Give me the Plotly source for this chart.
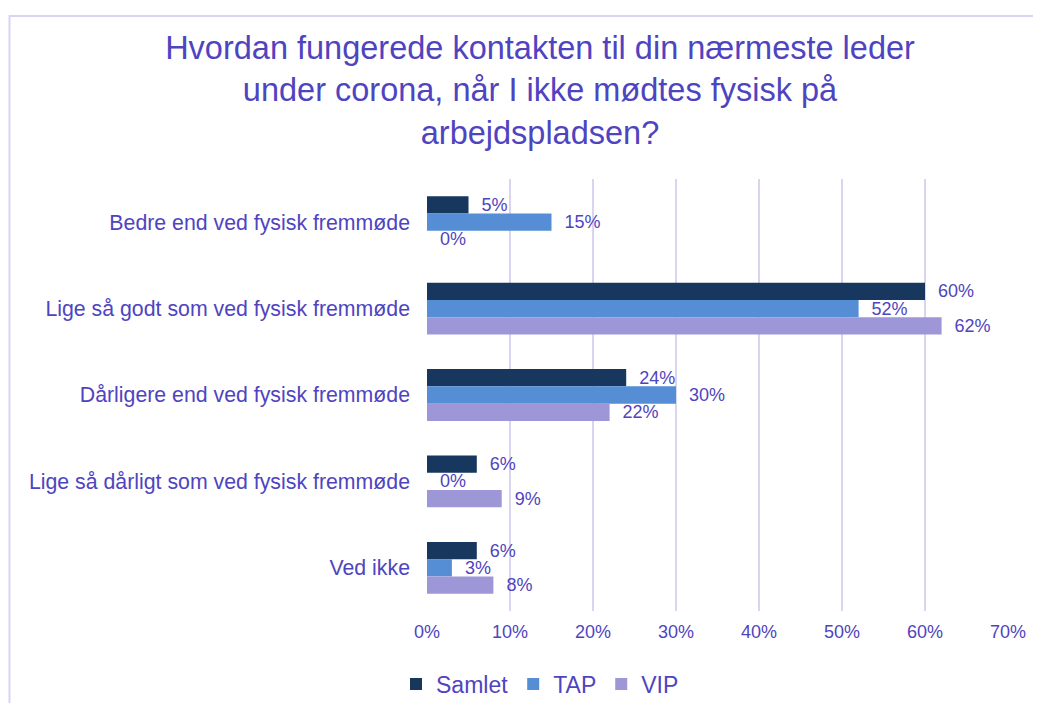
import plotly.graph_objects as go

categories = [
    "Bedre end ved fysisk fremmøde",
    "Lige så godt som ved fysisk fremmøde",
    "Dårligere end ved fysisk fremmøde",
    "Lige så dårligt som ved fysisk fremmøde",
    "Ved ikke",
]
samlet = [5, 60, 24, 6, 6]
tap = [15, 52, 30, 0, 3]
vip = [0, 62, 22, 9, 8]
series_names = ["Samlet", "TAP", "VIP"]
colors = ["#17375E", "#558ED5", "#9D97D8"]
tick_vals = [0, 10, 20, 30, 40, 50, 60, 70]
tick_text = ["0%", "10%", "20%", "30%", "40%", "50%", "60%", "70%"]

title_text = ("Hvordan fungerede kontakten til din nærmeste leder<br>"
              "under corona, når I ikke mødtes fysisk på<br>arbejdspladsen?")

TXT = "#4F44C0"
FONT = "Arial, Liberation Sans, sans-serif"

fig = go.Figure()
for name, vals, col in zip(series_names, [samlet, tap, vip], colors):
    fig.add_trace(go.Bar(
        y=categories, x=vals, name=name, orientation="h",
        marker=dict(color=col, line=dict(width=0)),
        text=["\u00a0\u00a0" + f"{v}%" for v in vals],
        textposition="outside",
        outsidetextfont=dict(color=TXT, size=18, family=FONT),
        constraintext="none",
        cliponaxis=False,
        hoverinfo="skip",
    ))

# page has an 8px body margin: figure origin sits at (8, 8) in the window
OFF = 8
W, H = 1041 - 2 * OFF, 711 - 2 * OFF
L, T = 427 - OFF, 179 - OFF
R = W - (1008 - OFF)
B = H - (611 - OFF)
pw = W - L - R
ph = H - T - B

def py(y_win):
    return (H - B - (y_win - OFF)) / ph

def px(x_win):
    return ((x_win - OFF) - L) / pw

fig.update_layout(
    width=W, height=H,
    margin=dict(l=L, r=R, t=T, b=B, autoexpand=False),
    paper_bgcolor="white", plot_bgcolor="white",
    barmode="group", bargap=0.4, bargroupgap=0,
    font=dict(family=FONT, color=TXT),
    title=dict(text=title_text, x=(540 - OFF) / W, xanchor="center",
               y=1 - (59 - OFF) / H, yanchor="top", xref="container", yref="container",
               font=dict(size=32.5, color=TXT, family=FONT)),
    showlegend=True,
    legend=dict(orientation="h", x=px(540), xanchor="center",
                y=py(684), yanchor="middle",
                font=dict(size=23, color=TXT, family=FONT),
                traceorder="normal", itemclick=False),
    xaxis=dict(range=[0, 70], tickvals=tick_vals, ticktext=tick_text,
               showgrid=True, gridcolor="#D9D5F0", gridwidth=2,
               zeroline=False, showline=False, ticks="",
               tickfont=dict(size=18, color=TXT, family=FONT),
               ticklabelstandoff=8, fixedrange=True),
    yaxis=dict(autorange="reversed", showgrid=False, zeroline=False,
               showline=False, ticks="",
               tickfont=dict(size=21.3, color=TXT, family=FONT),
               ticklabelstandoff=16, fixedrange=True),
    shapes=[dict(type="rect", xref="paper", yref="paper",
                 x0=px(9.5), x1=2, y0=-1, y1=py(16),
                 line=dict(color="#D9D3F5", width=2), layer="below")],
)

fig.write_html("out.html")
